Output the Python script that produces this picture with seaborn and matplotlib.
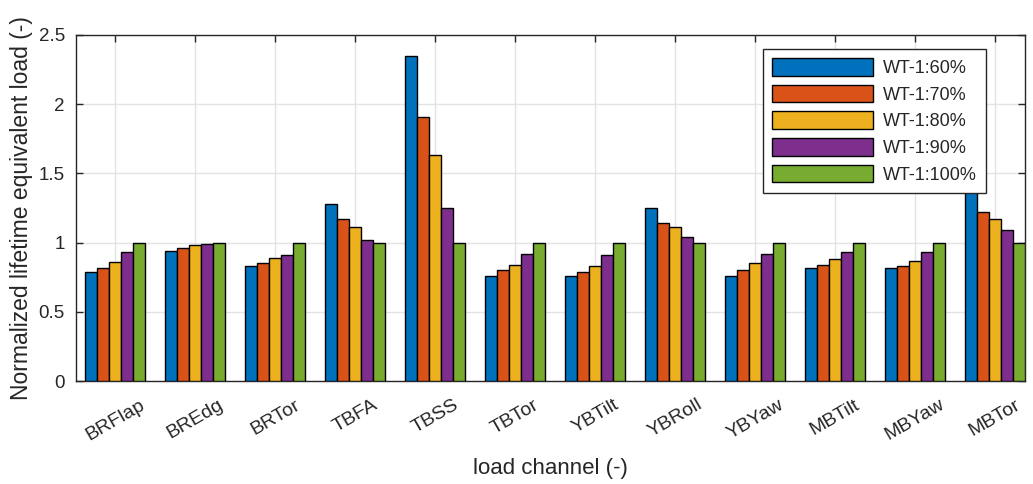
import numpy as np
import pandas as pd
import matplotlib
matplotlib.use("Agg")
import matplotlib.pyplot as plt
import seaborn as sns

# load channels and normalized lifetime DEL per wind speed level
channels = ["BRFlap", "BREdg", "BRTor", "TBFA", "TBSS", "TBTor",
            "YBTilt", "YBRoll", "YBYaw", "MBTilt", "MBYaw", "MBTor"]
series = ["WT-1:60%", "WT-1:70%", "WT-1:80%", "WT-1:90%", "WT-1:100%"]

wt60 = [0.79, 0.94, 0.83, 1.28, 2.35, 0.76, 0.76, 1.25, 0.76, 0.82, 0.82, 1.40]
wt70 = [0.82, 0.96, 0.85, 1.17, 1.91, 0.80, 0.79, 1.14, 0.80, 0.84, 0.83, 1.22]
wt80 = [0.86, 0.98, 0.89, 1.11, 1.63, 0.84, 0.83, 1.11, 0.85, 0.88, 0.87, 1.17]
wt90 = [0.93, 0.99, 0.91, 1.02, 1.25, 0.92, 0.91, 1.04, 0.92, 0.93, 0.93, 1.09]
wt100 = [1.00, 1.00, 1.00, 1.00, 1.00, 1.00, 1.00, 1.00, 1.00, 1.00, 1.00, 1.00]

colors = ["#0072BD", "#D95319", "#EDB120", "#7E2F8E", "#77AC30"]

rows = []
for name, vals in zip(series, [wt60, wt70, wt80, wt90, wt100]):
    for ch, v in zip(channels, vals):
        rows.append({"channel": ch, "case": name, "load": v})
df = pd.DataFrame(rows)

sns.set_theme(style="white")
plt.rcParams["font.family"] = ["Liberation Sans", "DejaVu Sans"]

fig = plt.figure(figsize=(10.33, 4.84), dpi=100)
ax = fig.add_axes([0.0736, 0.2128, 0.9186, 0.7149])

sns.barplot(data=df, x="channel", y="load", hue="case", order=channels,
            hue_order=series, palette=colors, width=0.75,
            edgecolor="black", linewidth=1.0, saturation=1, ax=ax, zorder=3)

ax.set_xlim(-0.49, 11.375)
ax.set_ylim(0, 2.5)
ax.set_yticks([0, 0.5, 1, 1.5, 2, 2.5])
ax.set_yticklabels(["0", "0.5", "1", "1.5", "2", "2.5"], fontsize=13.5)
ax.set_xticks(range(len(channels)))
ax.set_xticklabels(channels, rotation=30, ha="center", va="top",
                   fontsize=14)
ax.grid(True, color="#e3e3e3", linewidth=1.0, zorder=0)
ax.set_axisbelow(True)
ax.tick_params(direction="in", length=5, width=1, color="#262626",
               top=True, right=True, bottom=True, left=True,
               labelcolor="#262626")
ax.tick_params(axis="y", pad=8)
ax.tick_params(axis="x", pad=11)
for s in ax.spines.values():
    s.set_color("#262626")
    s.set_linewidth(1.0)

ax.set_xlabel("load channel (-)", fontsize=16, color="#262626", labelpad=10)
ax.set_ylabel("Normalized lifetime equivalent load (-)", fontsize=16.5,
              color="#262626", labelpad=4)

handles, labels = ax.get_legend_handles_labels()
leg = ax.legend(handles, labels, loc="upper right",
                bbox_to_anchor=(0.959, 0.96), borderaxespad=0, fontsize=13,
                handlelength=5.6, handleheight=1.15, labelspacing=0.42,
                handletextpad=0.55, borderpad=0.5, frameon=True,
                fancybox=False, edgecolor="#262626", framealpha=1)
leg.get_frame().set_linewidth(1.0)
leg.set_zorder(10)

fig.savefig("out.png", dpi=100)
